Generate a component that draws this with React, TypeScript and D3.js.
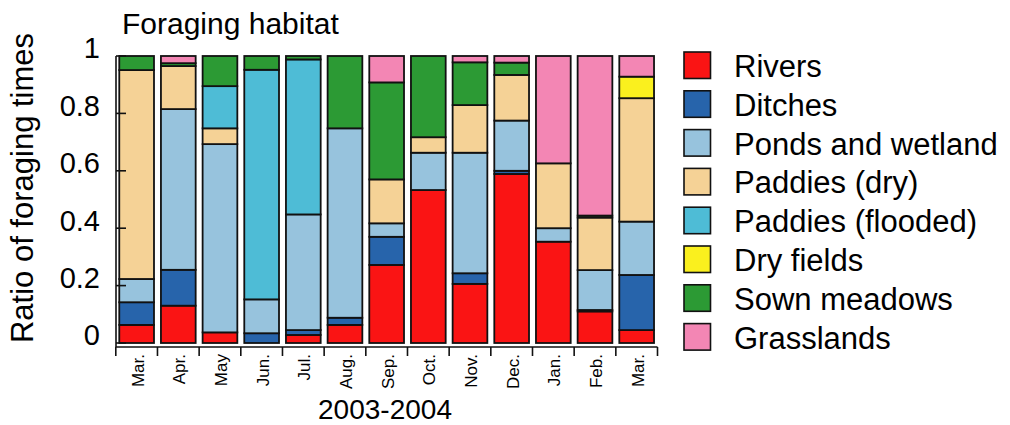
import React from "react";
import * as d3 from "d3";

const months = ["Mar.", "Apr.", "May", "Jun.", "Jul.", "Aug.", "Sep.", "Oct.", "Nov.", "Dec.", "Jan.", "Feb.", "Mar."];

const rivers = [0.063, 0.13, 0.037, 0.0, 0.028, 0.063, 0.272, 0.533, 0.206, 0.589, 0.353, 0.11, 0.045];
const ditches = [0.079, 0.125, 0.0, 0.034, 0.017, 0.025, 0.098, 0.0, 0.037, 0.011, 0.0, 0.005, 0.192];
const ponds = [0.081, 0.56, 0.656, 0.118, 0.403, 0.66, 0.047, 0.13, 0.42, 0.175, 0.047, 0.139, 0.186];
const paddiesDry = [0.728, 0.15, 0.055, 0, 0, 0, 0.153, 0.054, 0.166, 0.159, 0.226, 0.183, 0.43];
const paddiesFlooded = [0, 0, 0.147, 0.8, 0.54, 0, 0, 0, 0, 0, 0, 0, 0];
const dryFields = [0, 0, 0, 0, 0, 0, 0, 0, 0, 0, 0, 0, 0.075];
const sownMeadows = [0.049, 0.01, 0.105, 0.048, 0.012, 0.252, 0.338, 0.283, 0.149, 0.043, 0, 0.007, 0];
const grasslands = [0, 0.025, 0, 0, 0, 0, 0.092, 0, 0.022, 0.023, 0.374, 0.556, 0.072];

const seriesNames = ["Rivers", "Ditches", "Ponds and wetland", "Paddies (dry)", "Paddies (flooded)", "Dry fields", "Sown meadows", "Grasslands"];
const seriesColors = ["#FA1414", "#2764AB", "#97C3DD", "#F5D296", "#4EBCD6", "#FAF01E", "#2C9A34", "#F386B4"];
const seriesValues = [rivers, ditches, ponds, paddiesDry, paddiesFlooded, dryFields, sownMeadows, grasslands];

const yTicks = [0, 0.2, 0.4, 0.6, 0.8, 1];
const yTickLabels = ["0", "0.2", "0.4", "0.6", "0.8", "1"];

const FONT = "'Liberation Sans', Arial, Helvetica, sans-serif";

export default function App() {
  const rows = months.map((m, i) => {
    const r: any = { idx: i };
    seriesNames.forEach((s, k) => (r[s] = seriesValues[k][i]));
    return r;
  });
  const stacked = d3.stack<any>().keys(seriesNames)(rows);

  const x = d3
    .scaleBand<number>()
    .domain(months.map((_, i) => i))
    .range([115.8, 657.5])
    .paddingInner(1 / 6)
    .paddingOuter(1 / 12);
  const y = d3.scaleLinear().domain([0, 1]).range([343, 56]);
  const yLabel = d3.scaleLinear().domain([0, 1]).range([335, 48]);
  const step = x.step();
  const axisY = 347;

  const boundaries = d3.range(months.length + 1).map((i) => 115.8 + i * step);

  return (
    <svg width={1010} height={425} style={{ position: "absolute", left: 0, top: 0, background: "#fff" }} fontFamily={FONT}>
      <text x={122} y={34} fontSize={30} fill="#000">Foraging habitat</text>

      {/* bars */}
      {stacked.map((layer, k) => (
        <g key={layer.key}>
          {layer.map((d, i) =>
            d[1] - d[0] > 0 ? (
              <rect
                key={i}
                x={x(i)}
                y={y(d[1])}
                width={x.bandwidth()}
                height={y(d[0]) - y(d[1])}
                fill={seriesColors[k]}
                stroke="#111"
                strokeWidth={1.8}
              />
            ) : null
          )}
        </g>
      ))}

      {/* y axis */}
      <line x1={116} x2={116} y1={y(1)} y2={axisY} stroke="#111" strokeWidth={1.6} />
      {yTicks.map((t, i) => (
        <g key={i}>
          <line x1={116} x2={126} y1={y(t)} y2={y(t)} stroke="#111" strokeWidth={1.6} />
          <text x={100} y={yLabel(t)} dy="0.36em" textAnchor="end" fontSize={29} fill="#000">
            {yTickLabels[i]}
          </text>
        </g>
      ))}
      <text
        transform={`translate(33, 188) rotate(-90)`}
        textAnchor="middle"
        fontSize={31}
        fill="#000"
      >
        Ratio of foraging times
      </text>

      {/* x axis */}
      <line x1={boundaries[0]} x2={boundaries[boundaries.length - 1]} y1={axisY} y2={axisY} stroke="#111" strokeWidth={1.6} />
      {boundaries.map((b, i) => (
        <line key={i} x1={b} x2={b} y1={axisY} y2={axisY + 9} stroke="#111" strokeWidth={1.6} />
      ))}
      {months.map((m, i) => (
        <text
          key={i}
          transform={`translate(${(x(i) as number) + x.bandwidth() / 2 + 1}, 354) rotate(-90)`}
          textAnchor="end"
          dy="0.36em"
          fontSize={17}
          fill="#000"
        >
          {m}
        </text>
      ))}
      <text x={385} y={419} textAnchor="middle" fontSize={28} fill="#000">2003-2004</text>

      {/* legend */}
      {seriesNames.map((s, k) => {
        const top = 52 + k * 38.8;
        return (
          <g key={s}>
            <rect x={684} y={top} width={26.5} height={26.5} fill={seriesColors[k]} stroke="#111" strokeWidth={1.6} />
            <text x={734} y={top + 25} fontSize={31} fill="#000">{s}</text>
          </g>
        );
      })}
    </svg>
  );
}
